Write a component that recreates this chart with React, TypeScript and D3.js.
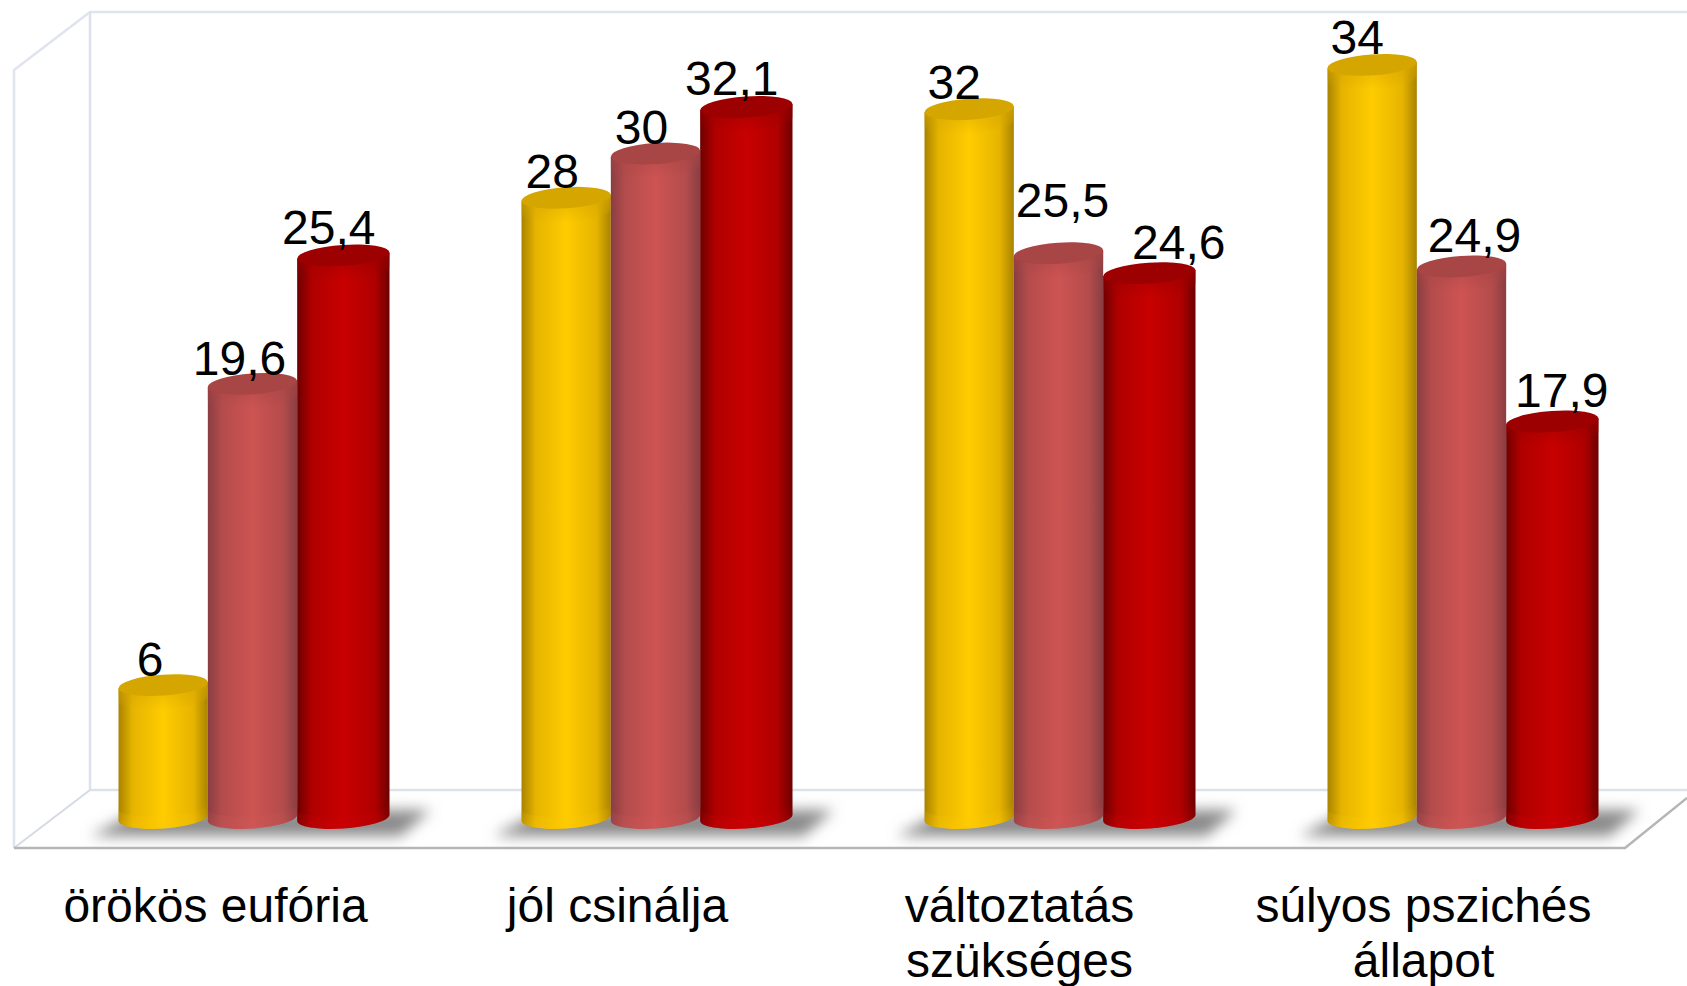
import {useEffect, useRef} from "react";
import * as d3 from "d3";

const categories = [["örökös eufória"], ["jól csinálja"], ["változtatás", "szükséges"], ["súlyos pszichés", "állapot"]];
const seriesNames = ["a", "b", "c"];
const yellowValues = [6, 28, 32, 34];
const pinkValues = [19.6, 30, 25.5, 24.9];
const redValues = [25.4, 32.1, 24.6, 17.9];
const seriesValues = [yellowValues, pinkValues, redValues];

// hand placed in the original, so each label has its own shift from the bar centre
const labelShiftsX = [
	[-13, -14, -15, -15],
	[-13, -14, 4, 13],
	[-13, -13, 31, 11],
];
const labelShiftsY = [
	[0, -1, -1, -2],
	[0, -1, -27, -5],
	[-2, -3, -5, -6],
];
const categoryShifts = [-38, -39, -40, -39];

const seriesColors = [
	{edge: "#a98300", mid: "#e6b400", centre: "#ffcc00", top: "#d6a600", base: "#ffc800"},
	{edge: "#8a3d42", mid: "#b44c4c", centre: "#cd5452", top: "#a84545", base: "#d0585a"},
	{edge: "#6e0000", mid: "#b00000", centre: "#c80000", top: "#9c0000", base: "#d00008"},
];

const W = 1687;
const H = 986;
const floorY = 818;
const ry = 10.5;
const tilt = -4; // the ellipses lean a little, left side lower
const lean = 3;

const fmt = (v: number) => String(v).replace(".", ",");

const App = () => {
	const svgRef = useRef<SVGSVGElement>(null);

	useEffect(() => {
		const svg = d3.select(svgRef.current);
		svg.selectAll("*").remove();

		const x = d3.scaleBand().domain(d3.range(categories.length).map(String)).range([52, 1664]);
		const inner = d3.scaleBand().domain(seriesNames).range([0, 268]);
		const y = d3.scaleLinear().domain([0, 34]).range([floorY, floorY - 34 * 22.15]);
		const groupLeft = (i: number) => x(String(i))! + x.bandwidth() / 2 - 135;

		const defs = svg.append("defs");
		const blur = defs.append("filter").attr("id", "soft").attr("x", "-20%").attr("y", "-80%").attr("width", "140%").attr("height", "260%");
		blur.append("feGaussianBlur").attr("stdDeviation", 7);

		seriesColors.forEach((c, i) => {
			const g = defs.append("linearGradient").attr("id", `body${i}`);
			[
				[0, c.edge],
				[0.16, c.mid],
				[0.5, c.centre],
				[0.84, c.mid],
				[1, c.edge],
			].forEach(([o, col]) => g.append("stop").attr("offset", o).attr("stop-color", col));

			const rim = defs.append("linearGradient").attr("id", `rim${i}`).attr("x1", 0).attr("x2", 0).attr("y1", 0).attr("y2", 1);
			rim.append("stop").attr("offset", 0).attr("stop-color", c.top).attr("stop-opacity", 1);
			rim.append("stop").attr("offset", 1).attr("stop-color", c.top).attr("stop-opacity", 0);

			const foot = defs.append("linearGradient").attr("id", `foot${i}`).attr("x1", 0).attr("x2", 0).attr("y1", 0).attr("y2", 1);
			foot.append("stop").attr("offset", 0).attr("stop-color", c.base).attr("stop-opacity", 0);
			foot.append("stop").attr("offset", 1).attr("stop-color", c.base).attr("stop-opacity", 0.35);
		});

		svg.append("rect").attr("width", W).attr("height", H).attr("fill", "#fff");

		// box: back wall and floor
		const frame = svg.append("g").attr("fill", "none").attr("stroke-linejoin", "round");
		const line = d3.line();
		frame.append("path")
			.attr("d", line([[14, 848], [14, 70], [90, 12], [1687, 12]]))
			.attr("stroke", "#dfe4ee")
			.attr("stroke-width", 2.5);
		frame.append("path")
			.attr("d", line([[90, 12], [90, 790], [1687, 790]]))
			.attr("stroke", "#dde1ec")
			.attr("stroke-width", 2.5);
		frame.append("path")
			.attr("d", line([[14, 848], [90, 790]]))
			.attr("stroke", "#d5dbe4")
			.attr("stroke-width", 2);
		frame.append("path")
			.attr("d", line([[14, 848], [1625, 848], [1687, 798]]))
			.attr("stroke", "#b4b6b8")
			.attr("stroke-width", 2.5);

		const groups = svg.selectAll("g.group")
			.data(categories)
			.join("g")
			.attr("class", "group")
			.attr("transform", (_, i) => `translate(${groupLeft(i)},0)`);

		// floor shadow
		groups.append("path")
			.attr("d", line([[-28, 836], [282, 836], [312, 810], [22, 810]]))
			.attr("fill", "#8a8a8a")
			.attr("filter", "url(#soft)");

		seriesNames.forEach((name, s) => {
			const bw = inner.bandwidth();
			const extra = s === 2 ? 1.5 : 0; // red ones are a little wider
			const rx = bw / 2 + extra;

			const bars = groups.append("g");
			const cx = inner(name)! + bw / 2 + extra;
			const topY = (_: unknown, i: number) => y(seriesValues[s][i]);
			const arc = (sweep: number, px: number, py: number) => `A${rx},${ry} ${tilt} 0 ${sweep} ${px},${py}`;

			bars.append("path")
				.attr("d", (_, i) => {
					const t = topY(_, i);
					return `M${cx - rx},${t + lean}V${floorY + lean}${arc(0, cx + rx, floorY - lean)}V${t - lean}Z`;
				})
				.attr("fill", `url(#body${s})`);
			bars.append("path")
				.attr("d", () => `M${cx - rx},${floorY - 12 + lean}V${floorY + lean}${arc(0, cx + rx, floorY - lean)}V${floorY - 12 - lean}${arc(1, cx - rx, floorY - 12 + lean)}Z`)
				.attr("fill", `url(#foot${s})`);
			bars.append("path")
				.attr("d", (_, i) => {
					const t = topY(_, i);
					return `M${cx - rx},${t + lean}V${t + lean + 14}${arc(0, cx + rx, t - lean + 14)}V${t - lean}Z`;
				})
				.attr("fill", `url(#rim${s})`)
				.attr("opacity", 0.7);
			bars.append("ellipse")
				.attr("transform", (_, i) => `translate(${cx},${topY(_, i)}) rotate(${tilt})`)
				.attr("rx", rx)
				.attr("ry", ry)
				.attr("fill", seriesColors[s].top);
		});

		// labels go last, they sit over the cylinder tops
		const text = svg.append("g").attr("font-family", "'Liberation Sans', Arial, sans-serif").attr("fill", "#000").attr("font-size", 48);

		seriesNames.forEach((name, s) => {
			categories.forEach((_, i) => {
				text.append("text")
					.attr("x", groupLeft(i) + inner(name)! + inner.bandwidth() / 2 + labelShiftsX[s][i])
					.attr("y", y(seriesValues[s][i]) - 9 + labelShiftsY[s][i])
					.attr("text-anchor", "middle")
					.text(fmt(seriesValues[s][i]));
			});
		});

		categories.forEach((lines, i) => {
			lines.forEach((l, k) => {
				text.append("text")
					.attr("x", x(String(i))! + x.bandwidth() / 2 + categoryShifts[i])
					.attr("y", 922 + k * 55)
					.attr("text-anchor", "middle")
					.text(l);
			});
		});
	}, []);

	return <svg ref={svgRef} width={W} height={H} style={{position: "absolute", left: 0, top: 0, display: "block"}} />;
};

export default App;
